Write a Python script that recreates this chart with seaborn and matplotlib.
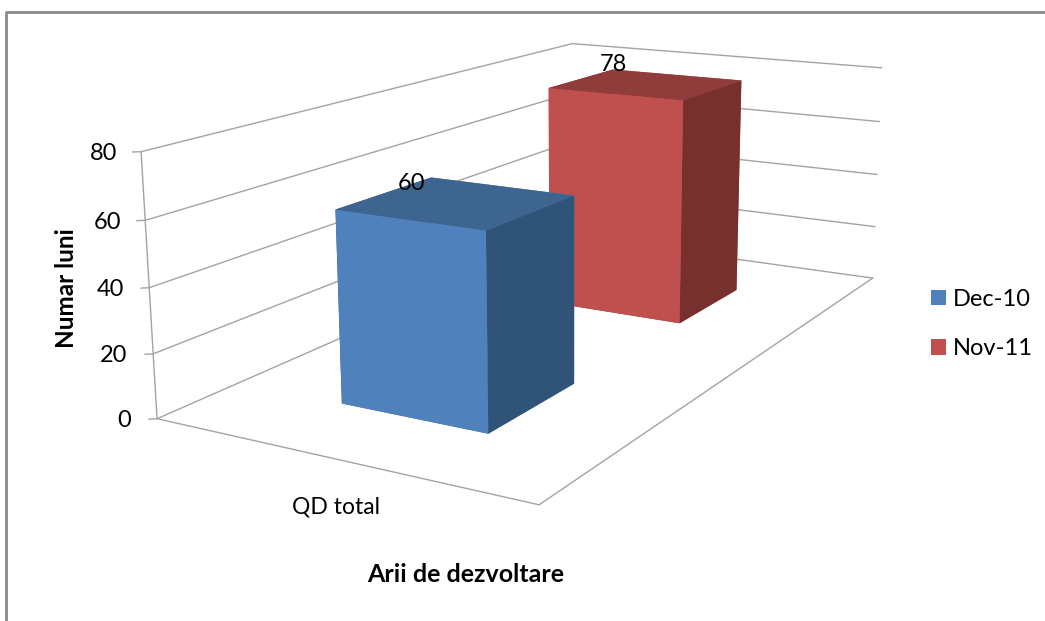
import matplotlib
matplotlib.use('Agg')
import matplotlib.pyplot as plt
from matplotlib.lines import Line2D
from matplotlib.patches import Patch
from mpl_toolkits.mplot3d import proj3d
import seaborn as sns

# Chart data
categories = ['QD total']
series_names = ['Dec-10', 'Nov-11']
dec_10 = [60]
nov_11 = [78]
value_ticks = [0, 20, 40, 60, 80]

# front, side and top shades of each series
palette = sns.color_palette(['#4F81BD', '#C0504D'])
blue_faces = {'front': '#4F81BD', 'side': '#305378', 'top': '#3D6590'}
red_faces = {'front': '#C0504D', 'side': '#78302E', 'top': '#903C3A'}
grid_color = '#A3A3A3'

sns.set_theme(style='white')
plt.rcParams['font.family'] = ['Lato', 'DejaVu Sans']

W, H = 1045, 621
fig = plt.figure(figsize=(W / 100, H / 100), dpi=100, facecolor='white')

# Square axes, camera fitted to the walls of the original chart
side = 859.09
ax = fig.add_axes([118.16 / W, -44.09 / H, side / W, side / H], projection='3d',
                  computed_zorder=False)
ax.view_init(elev=13.876, azim=-60.251, roll=0.095)
ax.set_proj_type('persp', focal_length=0.379)
ax.set_box_aspect((1.626, 3.114, 1))
ax.set_xlim(0, 1)
ax.set_ylim(0, 1)
ax.set_zlim(0, 80)
ax.set_xticks([])
ax.set_yticks([])
ax.set_zticks([])
ax.set_axis_off()
ax.patch.set_alpha(0)


def wall_line(xs, ys, zs, lw=1.0):
    ax.plot(xs, ys, zs, color=grid_color, lw=lw, zorder=1, solid_capstyle='round')


def label_3d(x, y, z, text, size=17, ha='center'):
    # project the 3D anchor, then place a plain 2D text there
    px, py, _ = proj3d.proj_transform(x, y, z, ax.get_proj())
    ax.text2D(px, py, text, transform=ax.transData, ha=ha, va='center',
              fontsize=size, color='black', zorder=5)


# Gridlines on the left and back walls
for v in value_ticks:
    wall_line([0, 0, 1], [0, 1, 1], [v, v, v])
    wall_line([-0.014, 0], [-0.006, 0], [v, v])
    drift = value_ticks[-1] - v
    label_3d(-0.07 - 0.00012 * drift, 0, v - 1.4 - 0.012 * drift, str(v), ha='right')
wall_line([0, 0], [0, 0], [0, value_ticks[-1]])
# Floor outline
wall_line([0, 1, 1], [0, 0, 1], [0, 0, 0])


def draw_bar(x0, x1, y0, y1, height, faces, order):
    colors = [faces['top'], faces['top'], faces['front'], faces['front'],
              faces['side'], faces['side']]
    ax.bar3d([x0], [y0], [0], [x1 - x0], [y1 - y0], [height], color=colors,
             shade=False, linewidth=0, edgecolor='none', zorder=order)


draw_bar(0.307, 0.707, 0.647, 0.839, nov_11[0], red_faces, 2)
draw_bar(0.303, 0.702, 0.150, 0.352, dec_10[0], blue_faces, 3)

# Data labels
label_3d(0.245, 0.352, dec_10[0] - 2.8, str(dec_10[0]))
label_3d(0.307, 0.839, nov_11[0] + 2.0, str(nov_11[0]))

# Category label under the floor
label_3d(0.655, -0.108, 0, categories[0], size=16.5)

# Axis titles
fig.text(67 / W, 1 - 288 / H, 'Numar luni', rotation=90, ha='center', va='center',
         fontsize=17.5, fontweight='bold', color='black')
fig.text(466 / W, 1 - 575 / H, 'Arii de dezvoltare', ha='center', va='center',
         fontsize=18, fontweight='bold', color='black')

# Legend
handles = [Patch(facecolor=c, edgecolor='none') for c in palette]
fig.legend(handles, series_names, loc='center left', bbox_to_anchor=(931 / W, 1 - 324 / H),
           frameon=False, fontsize=17, handlelength=0.64, handleheight=0.64,
           handletextpad=0.3, labelspacing=1.21, borderpad=0, borderaxespad=0,
           labelcolor='black')

# Chart border, open on the right and at the bottom of the crop
border = dict(color='#8A8A8A', lw=2, transform=fig.transFigure, solid_capstyle='butt')
fig.add_artist(Line2D([6 / W, 6 / W], [0, 1 - 12 / H], **border))
fig.add_artist(Line2D([5 / W, 1], [1 - 12 / H, 1 - 12 / H], **border))

fig.savefig('out.png', dpi=100)
